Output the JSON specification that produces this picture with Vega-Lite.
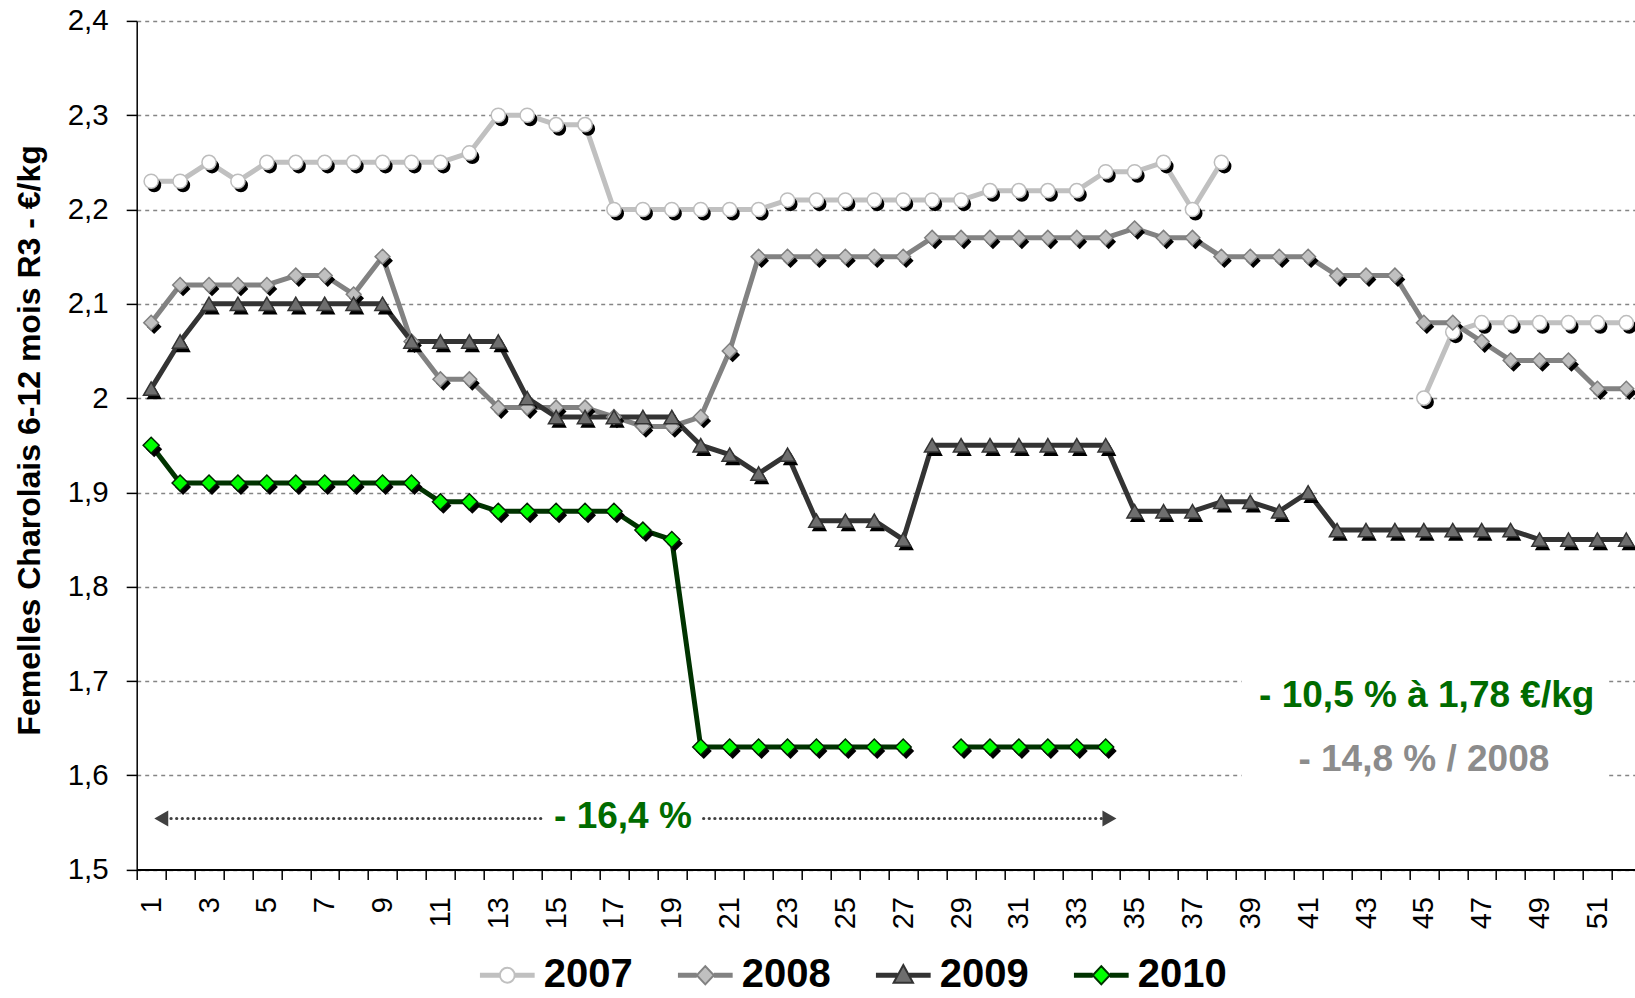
{
  "$schema": "https://vega.github.io/schema/vega-lite/v6.json",
  "width": 1498.3,
  "height": 848.7,
  "autosize": {"type": "none"},
  "padding": {"left": 136.7, "top": 20.9, "right": 0, "bottom": 128.4},
  "background": "white",
  "config": {"view": {"stroke": null}, "font": "Liberation Sans"},
  "datasets": {
    "prices": [
      {"year":"2007","week":1,"price":2.23},{"year":"2007","week":2,"price":2.23},{"year":"2007","week":3,"price":2.25},{"year":"2007","week":4,"price":2.23},
      {"year":"2007","week":5,"price":2.25},{"year":"2007","week":6,"price":2.25},{"year":"2007","week":7,"price":2.25},{"year":"2007","week":8,"price":2.25},
      {"year":"2007","week":9,"price":2.25},{"year":"2007","week":10,"price":2.25},{"year":"2007","week":11,"price":2.25},{"year":"2007","week":12,"price":2.26},
      {"year":"2007","week":13,"price":2.30},{"year":"2007","week":14,"price":2.30},{"year":"2007","week":15,"price":2.29},{"year":"2007","week":16,"price":2.29},
      {"year":"2007","week":17,"price":2.20},{"year":"2007","week":18,"price":2.20},{"year":"2007","week":19,"price":2.20},{"year":"2007","week":20,"price":2.20},
      {"year":"2007","week":21,"price":2.20},{"year":"2007","week":22,"price":2.20},{"year":"2007","week":23,"price":2.21},{"year":"2007","week":24,"price":2.21},
      {"year":"2007","week":25,"price":2.21},{"year":"2007","week":26,"price":2.21},{"year":"2007","week":27,"price":2.21},{"year":"2007","week":28,"price":2.21},
      {"year":"2007","week":29,"price":2.21},{"year":"2007","week":30,"price":2.22},{"year":"2007","week":31,"price":2.22},{"year":"2007","week":32,"price":2.22},
      {"year":"2007","week":33,"price":2.22},{"year":"2007","week":34,"price":2.24},{"year":"2007","week":35,"price":2.24},{"year":"2007","week":36,"price":2.25},
      {"year":"2007","week":37,"price":2.20},{"year":"2007","week":38,"price":2.25},{"year":"2007","week":39,"price":null},{"year":"2007","week":40,"price":null},
      {"year":"2007","week":41,"price":null},{"year":"2007","week":42,"price":null},{"year":"2007","week":43,"price":null},{"year":"2007","week":44,"price":null},
      {"year":"2007","week":45,"price":2.00},{"year":"2007","week":46,"price":2.07},{"year":"2007","week":47,"price":2.08},{"year":"2007","week":48,"price":2.08},
      {"year":"2007","week":49,"price":2.08},{"year":"2007","week":50,"price":2.08},{"year":"2007","week":51,"price":2.08},{"year":"2007","week":52,"price":2.08},

      {"year":"2008","week":1,"price":2.08},{"year":"2008","week":2,"price":2.12},{"year":"2008","week":3,"price":2.12},{"year":"2008","week":4,"price":2.12},
      {"year":"2008","week":5,"price":2.12},{"year":"2008","week":6,"price":2.13},{"year":"2008","week":7,"price":2.13},{"year":"2008","week":8,"price":2.11},
      {"year":"2008","week":9,"price":2.15},{"year":"2008","week":10,"price":2.06},{"year":"2008","week":11,"price":2.02},{"year":"2008","week":12,"price":2.02},
      {"year":"2008","week":13,"price":1.99},{"year":"2008","week":14,"price":1.99},{"year":"2008","week":15,"price":1.99},{"year":"2008","week":16,"price":1.99},
      {"year":"2008","week":17,"price":1.98},{"year":"2008","week":18,"price":1.97},{"year":"2008","week":19,"price":1.97},{"year":"2008","week":20,"price":1.98},
      {"year":"2008","week":21,"price":2.05},{"year":"2008","week":22,"price":2.15},{"year":"2008","week":23,"price":2.15},{"year":"2008","week":24,"price":2.15},
      {"year":"2008","week":25,"price":2.15},{"year":"2008","week":26,"price":2.15},{"year":"2008","week":27,"price":2.15},{"year":"2008","week":28,"price":2.17},
      {"year":"2008","week":29,"price":2.17},{"year":"2008","week":30,"price":2.17},{"year":"2008","week":31,"price":2.17},{"year":"2008","week":32,"price":2.17},
      {"year":"2008","week":33,"price":2.17},{"year":"2008","week":34,"price":2.17},{"year":"2008","week":35,"price":2.18},{"year":"2008","week":36,"price":2.17},
      {"year":"2008","week":37,"price":2.17},{"year":"2008","week":38,"price":2.15},{"year":"2008","week":39,"price":2.15},{"year":"2008","week":40,"price":2.15},
      {"year":"2008","week":41,"price":2.15},{"year":"2008","week":42,"price":2.13},{"year":"2008","week":43,"price":2.13},{"year":"2008","week":44,"price":2.13},
      {"year":"2008","week":45,"price":2.08},{"year":"2008","week":46,"price":2.08},{"year":"2008","week":47,"price":2.06},{"year":"2008","week":48,"price":2.04},
      {"year":"2008","week":49,"price":2.04},{"year":"2008","week":50,"price":2.04},{"year":"2008","week":51,"price":2.01},{"year":"2008","week":52,"price":2.01},

      {"year":"2009","week":1,"price":2.01},{"year":"2009","week":2,"price":2.06},{"year":"2009","week":3,"price":2.10},{"year":"2009","week":4,"price":2.10},
      {"year":"2009","week":5,"price":2.10},{"year":"2009","week":6,"price":2.10},{"year":"2009","week":7,"price":2.10},{"year":"2009","week":8,"price":2.10},
      {"year":"2009","week":9,"price":2.10},{"year":"2009","week":10,"price":2.06},{"year":"2009","week":11,"price":2.06},{"year":"2009","week":12,"price":2.06},
      {"year":"2009","week":13,"price":2.06},{"year":"2009","week":14,"price":2.00},{"year":"2009","week":15,"price":1.98},{"year":"2009","week":16,"price":1.98},
      {"year":"2009","week":17,"price":1.98},{"year":"2009","week":18,"price":1.98},{"year":"2009","week":19,"price":1.98},{"year":"2009","week":20,"price":1.95},
      {"year":"2009","week":21,"price":1.94},{"year":"2009","week":22,"price":1.92},{"year":"2009","week":23,"price":1.94},{"year":"2009","week":24,"price":1.87},
      {"year":"2009","week":25,"price":1.87},{"year":"2009","week":26,"price":1.87},{"year":"2009","week":27,"price":1.85},{"year":"2009","week":28,"price":1.95},
      {"year":"2009","week":29,"price":1.95},{"year":"2009","week":30,"price":1.95},{"year":"2009","week":31,"price":1.95},{"year":"2009","week":32,"price":1.95},
      {"year":"2009","week":33,"price":1.95},{"year":"2009","week":34,"price":1.95},{"year":"2009","week":35,"price":1.88},{"year":"2009","week":36,"price":1.88},
      {"year":"2009","week":37,"price":1.88},{"year":"2009","week":38,"price":1.89},{"year":"2009","week":39,"price":1.89},{"year":"2009","week":40,"price":1.88},
      {"year":"2009","week":41,"price":1.90},{"year":"2009","week":42,"price":1.86},{"year":"2009","week":43,"price":1.86},{"year":"2009","week":44,"price":1.86},
      {"year":"2009","week":45,"price":1.86},{"year":"2009","week":46,"price":1.86},{"year":"2009","week":47,"price":1.86},{"year":"2009","week":48,"price":1.86},
      {"year":"2009","week":49,"price":1.85},{"year":"2009","week":50,"price":1.85},{"year":"2009","week":51,"price":1.85},{"year":"2009","week":52,"price":1.85},

      {"year":"2010","week":1,"price":1.95},{"year":"2010","week":2,"price":1.91},{"year":"2010","week":3,"price":1.91},{"year":"2010","week":4,"price":1.91},
      {"year":"2010","week":5,"price":1.91},{"year":"2010","week":6,"price":1.91},{"year":"2010","week":7,"price":1.91},{"year":"2010","week":8,"price":1.91},
      {"year":"2010","week":9,"price":1.91},{"year":"2010","week":10,"price":1.91},{"year":"2010","week":11,"price":1.89},{"year":"2010","week":12,"price":1.89},
      {"year":"2010","week":13,"price":1.88},{"year":"2010","week":14,"price":1.88},{"year":"2010","week":15,"price":1.88},{"year":"2010","week":16,"price":1.88},
      {"year":"2010","week":17,"price":1.88},{"year":"2010","week":18,"price":1.86},{"year":"2010","week":19,"price":1.85},{"year":"2010","week":20,"price":1.63},
      {"year":"2010","week":21,"price":1.63},{"year":"2010","week":22,"price":1.63},{"year":"2010","week":23,"price":1.63},{"year":"2010","week":24,"price":1.63},
      {"year":"2010","week":25,"price":1.63},{"year":"2010","week":26,"price":1.63},{"year":"2010","week":27,"price":1.63},{"year":"2010","week":28,"price":null},
      {"year":"2010","week":29,"price":1.63},{"year":"2010","week":30,"price":1.63},{"year":"2010","week":31,"price":1.63},{"year":"2010","week":32,"price":1.63},
      {"year":"2010","week":33,"price":1.63},{"year":"2010","week":34,"price":1.63}
    ]
  },
  "encoding": {
    "x": {
      "field": "week", "type": "quantitative",
      "scale": {"domain": [0.5, 52.3], "nice": false, "zero": false},
      "axis": {
        "title": null,
        "values": [1,2,3,4,5,6,7,8,9,10,11,12,13,14,15,16,17,18,19,20,21,22,23,24,25,26,27,28,29,30,31,32,33,34,35,36,37,38,39,40,41,42,43,44,45,46,47,48,49,50,51,52],
        "tickOffset": -14.46, "labelOffset": 14.46,
        "labelExpr": "datum.value % 2 === 1 ? datum.label : ''",
        "labelAngle": 270, "labelAlign": "right", "labelBaseline": "middle",
        "labelFontSize": 29, "labelColor": "black", "labelPadding": 17,
        "labelFlush": false, "labelOverlap": false, "labelBound": false,
        "grid": false,
        "domainColor": "black", "domainWidth": 2,
        "tickColor": "black", "tickWidth": 1.5, "tickSize": 10
      }
    },
    "y": {
      "field": "price", "type": "quantitative",
      "scale": {"domain": [1.5, 2.4], "nice": false, "zero": false},
      "axis": {
        "values": [1.5,1.6,1.7,1.8,1.9,2.0,2.1,2.2,2.3,2.4],
        "labelExpr": "replace(format(datum.value, '.1~f'), '.', ',')",
        "labelFontSize": 29.5, "labelColor": "black", "labelPadding": 18,
        "labelFlush": false, "labelOverlap": false,
        "domainColor": "black", "domainWidth": 1.5,
        "tickColor": "black", "tickWidth": 1.5, "tickSize": 10.5,
        "grid": true, "gridColor": "#858585", "gridDash": [4, 4], "gridWidth": 1.5,
        "title": "Femelles Charolais 6-12 mois R3 - €/kg",
        "titleFontSize": 32, "titleFontWeight": "bold", "titleColor": "black",
        "titleAngle": 270, "titleAlign": "center", "titleBaseline": "middle",
        "titleX": -107, "titleY": 419
      }
    }
  },
  "layer": [
    {
      "data": {"values": [{"week": 38.7, "week2": 51.4, "price": 1.585, "price2": 1.72}]},
      "mark": {"type": "rect", "fill": "white"},
      "encoding": {"x2": {"field": "week2"}, "y2": {"field": "price2"}}
    },
    {
      "data": {"values": [{"week": 1.3, "week2": 14.5, "price": 1.5542}, {"week": 20.1, "week2": 34.2, "price": 1.5542}]},
      "mark": {"type": "rule", "color": "#404040", "strokeWidth": 3.2, "strokeDash": [0.1, 5.5], "strokeCap": "round"},
      "encoding": {"x2": {"field": "week2"}}
    },
    {
      "data": {"values": [{"week": 1.35, "price": 1.5542}]},
      "mark": {"type": "point", "shape": "triangle-left", "filled": true, "color": "#404040", "size": 260, "opacity": 1}
    },
    {
      "data": {"values": [{"week": 34.13, "price": 1.5542}]},
      "mark": {"type": "point", "shape": "triangle-right", "filled": true, "color": "#404040", "size": 260, "opacity": 1}
    },
    {
      "data": {"values": [{"week": 17.31, "price": 1.5563, "label": "- 16,4 %"}, {"week": 45.1, "price": 1.6846, "label": "- 10,5 % à 1,78 €/kg"}]},
      "mark": {"type": "text", "color": "#006b00", "fontSize": 37, "fontWeight": "bold", "align": "center", "baseline": "middle", "font": "Liberation Sans"},
      "encoding": {"text": {"field": "label"}}
    },
    {
      "data": {"values": [{"week": 45.0, "price": 1.6162, "label": "- 14,8 % / 2008"}]},
      "mark": {"type": "text", "color": "#8c8c8c", "fontSize": 37, "fontWeight": "bold", "align": "center", "baseline": "middle", "font": "Liberation Sans"},
      "encoding": {"text": {"field": "label"}}
    },
    {
      "data": {"name": "prices"},
      "mark": {"type": "line", "strokeWidth": 5, "strokeJoin": "round", "invalid": "break-paths-filter-domains"},
      "encoding": {
        "color": {
          "field": "year", "type": "nominal",
          "scale": {"domain": ["2007", "2008", "2009", "2010"], "range": ["#c0c0c0", "#828282", "#333333", "#003300"]},
          "legend": {
            "title": null, "orient": "none", "direction": "horizontal",
            "legendX": 341.1, "legendY": 924.6,
            "symbolType": "stroke", "symbolSize": 3249, "symbolStrokeWidth": 2,
            "labelFont": "Liberation Sans", "labelFontSize": 40, "labelFontWeight": "bold", "labelColor": "black",
            "labelOffset": 7, "columnPadding": 41, "padding": 0,
            "encode": {"symbols": {"update": {
              "shape": {"signal": "datum.value === '2007' ? 'M-0.96,-0.055H-0.26M-0.96,0H-0.26M-0.96,0.055H-0.26M0.26,-0.055H0.96M0.26,0H0.96M0.26,0.055H0.96M0.26,0A0.26,0.26 0 1 1 -0.26,0A0.26,0.26 0 1 1 0.26,0Z' : datum.value === '2009' ? 'M-0.96,-0.055H-0.2M-0.96,0H-0.2M-0.96,0.055H-0.2M0.2,-0.055H0.96M0.2,0H0.96M0.2,0.055H0.96M0,-0.36L0.34,0.26L-0.34,0.26Z' : 'M-0.96,-0.055H-0.3M-0.96,0H-0.3M-0.96,0.055H-0.3M0.3,-0.055H0.96M0.3,0H0.96M0.3,0.055H0.96M0,-0.32L0.3,0L0,0.32L-0.3,0Z'"},
              "fill": {"signal": "datum.value === '2007' ? '#ffffff' : datum.value === '2008' ? '#c0c0c0' : datum.value === '2009' ? '#6e6e6e' : '#00ff00'"},
              "strokeWidth": {"value": 2},
              "opacity": {"value": 1}
            }}}
          }
        }
      }
    },
    {
      "data": {"name": "prices"},
      "mark": {"type": "point", "filled": true, "color": "black", "opacity": 1, "strokeWidth": 0, "xOffset": 3, "yOffset": 4},
      "encoding": {
        "shape": {"field": "year", "type": "nominal", "scale": {"range": ["circle", "diamond", "triangle-up", "diamond"]}, "legend": null},
        "size": {"field": "year", "type": "ordinal", "scale": {"range": [200, 256, 360, 256]}, "legend": null}
      }
    },
    {
      "data": {"name": "prices"},
      "mark": {"type": "point", "filled": true, "opacity": 1, "strokeWidth": 1.5},
      "encoding": {
        "shape": {"field": "year", "type": "nominal", "scale": {"range": ["circle", "diamond", "triangle-up", "diamond"]}, "legend": null},
        "fill": {"field": "year", "type": "nominal", "scale": {"range": ["#ffffff", "#c0c0c0", "#6e6e6e", "#00ff00"]}, "legend": null},
        "stroke": {"field": "year", "type": "nominal", "scale": {"range": ["#bdbdbd", "#7f7f7f", "#333333", "#002200"]}, "legend": null},
        "size": {"field": "year", "type": "ordinal", "scale": {"range": [200, 256, 360, 256]}, "legend": null}
      }
    }
  ]
}
